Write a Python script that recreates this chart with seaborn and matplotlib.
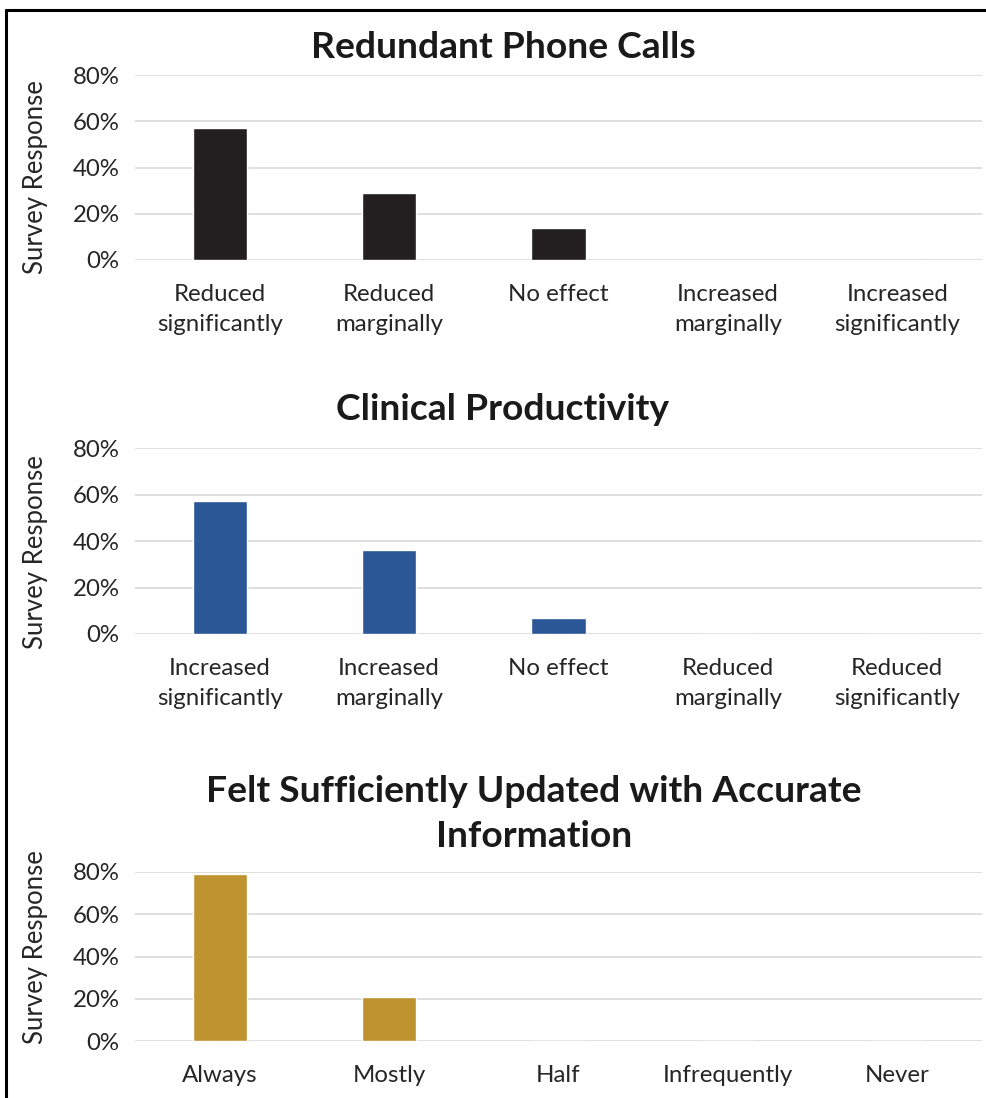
import numpy as np
import pandas as pd
import matplotlib.pyplot as plt
import seaborn as sns
from matplotlib.lines import Line2D
from matplotlib.ticker import PercentFormatter

sns.set_theme(style="white")
plt.rcParams["font.family"] = ["Lato", "DejaVu Sans"]

#%% DATA
calls_cats = ["Reduced\nsignificantly", "Reduced\nmarginally", "No effect",
              "Increased\nmarginally", "Increased\nsignificantly"]
calls_vals = [0.57, 0.29, 0.14, 0.0, 0.0]

prod_cats = ["Increased\nsignificantly", "Increased\nmarginally", "No effect",
             "Reduced\nmarginally", "Reduced\nsignificantly"]
prod_vals = [0.57, 0.36, 0.07, 0.0, 0.0]

info_cats = ["Always", "Mostly", "Half", "Infrequently", "Never"]
info_vals = [0.79, 0.21, 0.0, 0.0, 0.0]

panels = [
    ("Redundant Phone Calls", calls_cats, calls_vals, "#231f20"),
    ("Clinical Productivity", prod_cats, prod_vals, "#2b5797"),
    ("Felt Sufficiently Updated with Accurate\nInformation", info_cats, info_vals, "#bf9230"),
]

#%% LAYOUT (figure fractions)
W, H = 986, 1098
fig = plt.figure(figsize=(W / 100, H / 100), dpi=100)
left, width = 135 / W, 847 / W
axes_px = [(260, 185), (634, 186), (1041, 169)]   # bottom, height in pixels
title_px = [(503, 47), (503, 410), (534, 814)]
ylab_y = [0.449, 0.44, 0.556]

for i, (title, cats, vals, color) in enumerate(panels):
    bottom, height = axes_px[i]
    ax = fig.add_axes([left, 1 - bottom / H, width, height / H])
    df = pd.DataFrame({"cat": cats, "val": vals})
    sns.barplot(data=df, x="cat", y="val", order=cats, color=color,
                width=0.32, saturation=1, ax=ax)
    ax.set_xlim(-0.5, 4.5)
    ax.set_ylim(0, 0.8)
    ax.set_yticks([0, 0.2, 0.4, 0.6, 0.8])
    ax.yaxis.set_major_formatter(PercentFormatter(1.0, decimals=0))
    ax.grid(axis="y", color="#d9d9d9", linewidth=1.2)
    ax.set_axisbelow(True)
    for s in ax.spines.values():
        s.set_visible(False)
    ax.tick_params(axis="x", length=0, pad=17, labelsize=17.3, colors="#262626")
    ax.tick_params(axis="y", length=0, pad=11, labelsize=17.3, colors="#262626")
    for lab in ax.get_xticklabels():
        lab.set_linespacing(1.58)
        lab.set_verticalalignment("top")
    ax.set_xlabel("")
    ax.set_ylabel("Survey Response", fontsize=18.5, color="#262626")
    ax.yaxis.set_label_coords(-0.103, ylab_y[i])
    tx, ty = title_px[i]
    fig.text(tx / W, 1 - ty / H, title, ha="center", va="center",
             fontsize=26.8, fontweight="bold", color="#1a1a1a", linespacing=1.45)

# frame lines (top and left)
fig.add_artist(Line2D([6 / W, 1], [1 - 10 / H, 1 - 10 / H], color="black", linewidth=2.2))
fig.add_artist(Line2D([6 / W, 6 / W], [0, 1 - 10 / H], color="black", linewidth=2.2))

plt.savefig("out.png", dpi=100)
plt.close()
